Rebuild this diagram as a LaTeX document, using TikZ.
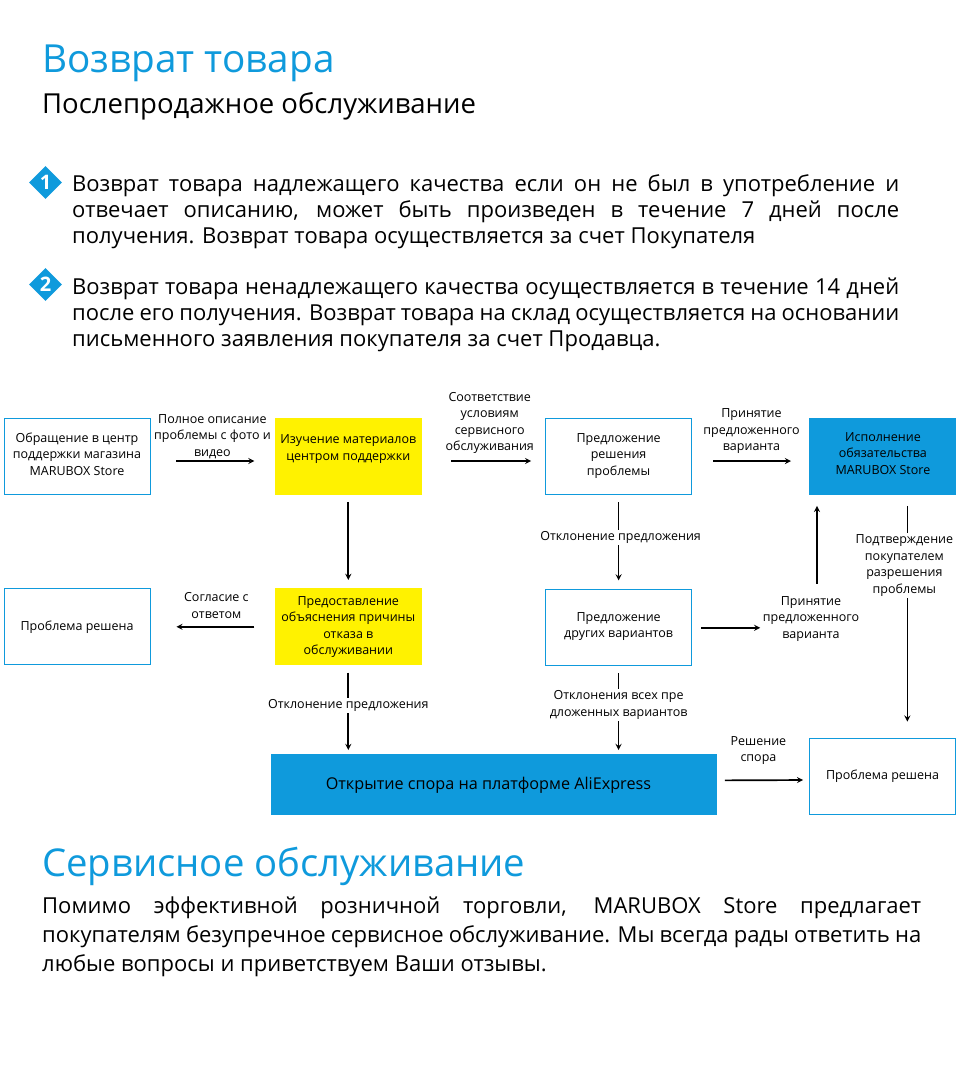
\documentclass[tikz,border=0pt]{standalone}
\usepackage{fontspec}
\setmainfont{Open Sans}
\usepackage{tikz}
\usetikzlibrary{arrows,positioning,shapes.geometric}
\definecolor{shopblue}{HTML}{0F9ADC}
\definecolor{shopyellow}{HTML}{FFF200}
\newcommand{\pushup}[1]{\\[#1]\mbox{}}

\begin{document}
\begin{tikzpicture}[
    x=1pt, y=1pt,
    node distance=94pt and 124pt,
    box/.style={draw=shopblue, fill=white, line width=0.8pt, minimum width=146pt, minimum height=76pt, align=center, font=\fontsize{12.5}{16.5}\selectfont, inner sep=1pt},
    yellowbox/.style={box, draw=none, fill=shopyellow, minimum width=147pt, minimum height=77pt},
    bluebox/.style={box, draw=none, fill=shopblue, minimum width=147pt, minimum height=77pt},
    lbl/.style={align=center, font=\fontsize{12.5}{16.5}\selectfont, inner sep=1.5pt},
    gaplbl/.style={lbl, fill=white},
    badge/.style={diamond, aspect=1, fill=shopblue, text=white, inner sep=0pt, minimum size=33pt, font=\fontsize{20}{20}\selectfont\bfseries},
    para/.style={anchor=north west, align=justify, font=\fontsize{22}{26}\selectfont, inner sep=0pt},
    arr/.style={-stealth, line width=1.7pt}
]
\useasboundingbox (0,0) rectangle (960,-1085);
\fill[white] (0,0) rectangle (960,-1085);

% headings
\node[anchor=base west, inner sep=0pt, text=shopblue, font=\fontsize{38.7}{39}\selectfont] (title) at (42,-72) {Возврат товара};
\node[anchor=base west, inner sep=0pt, font=\fontsize{27.5}{27.5}\selectfont] (subtitle) at (42,-113) {Послепродажное обслуживание};

% rules
\node[badge] (mark1) at (45.5,-182.5) {1};
\node[badge] (mark2) at (45.5,-284.5) {2};
\node[para, text width=827pt] (rule1) at (72,-174) {Возврат товара надлежащего качества если он не был в употребление и\linebreak отвечает описанию, может быть произведен в течение 7 дней после\linebreak получения. Возврат товара осуществляется за счет Покупателя};
\node[para, text width=827pt] (rule2) at (72,-278) {Возврат товара ненадлежащего качества осуществляется в течение 14 дней\linebreak после его получения. Возврат товара на склад осуществляется на основании\linebreak письменного заявления покупателя за счет Продавца.};

% top row
\node[box] (contact) at (77,-456) {Обращение в центр\\поддержки магазина\\MARUBOX Store\pushup{-12.5pt}};
\node[yellowbox, right=124pt of contact] (study) {Изучение материалов\\центром поддержки\pushup{0pt}};
\node[box, right=123pt of study] (offer) {Предложение\\решения\\проблемы};
\node[bluebox, right=117pt of offer] (exec) {Исполнение\\обязательства\\MARUBOX Store\pushup{-11pt}};

% middle row
\node[yellowbox, below=93pt of study] (explain) {Предоставление\\объяснения причины\\отказа в\\обслуживании};
\node[box, left=124pt of explain] (solved1) {Проблема решена};
\node[box, below=95pt of offer] (other) {Предложение\\других вариантов\pushup{-11pt}};
\node[lbl] (accept2) at (811,-619) {Принятие\\предложенного\\варианта};

% bottom row
\node[bluebox, anchor=north west, minimum width=446pt, minimum height=61pt, font=\fontsize{16.2}{20}\selectfont] (dispute) at (271,-754) {Открытие спора на платформе AliExpress\hspace*{12pt}};
\node[box] (solved2) at (882.5,-776) {Проблема решена};

% connectors
\draw[arr, shorten <=26pt, shorten >=20pt] ([yshift=-5pt]contact.east) -- node[lbl, above] {Полное описание\\проблемы с фото и\\видео} ([yshift=-5pt]study.west);
\draw[arr, shorten <=29pt, shorten >=14pt] ([yshift=-5pt]study.east) -- node[lbl, above, xshift=6pt, yshift=5pt] {Соответствие\\условиям\\сервисного\\обслуживания} ([yshift=-5pt]offer.west);
\draw[arr, shorten <=21pt, shorten >=18pt] ([yshift=-5pt]offer.east) -- node[lbl, above, xshift=1pt, yshift=5pt] {Принятие\\предложенного\\варианта} ([yshift=-5pt]exec.west);
\draw[arr, shorten <=7pt, shorten >=8pt] (study.south) -- (explain.north);
\draw[arr, shorten <=8pt, shorten >=9pt] (offer.south) -- node[gaplbl, pos=0.45, xshift=2pt] {Отклонение предложения} (other.north);
\draw[arr, shorten <=20pt, shorten >=26pt] (explain.west) -- node[lbl, above, xshift=4pt, yshift=6pt] {Согласие с\\ответом} (solved1.east);
\draw[arr, shorten <=9pt, shorten >=1pt] (other.east) -- (other.east -| accept2.west);
\draw[arr, shorten <=11pt, shorten >=11pt] ([xshift=6pt]accept2.north) -- ([xshift=6pt]accept2.north |- exec.south);
\draw[arr, shorten <=11pt, shorten >=16pt] ([xshift=24.5pt]exec.south) -- node[gaplbl, pos=0.29, xshift=-3pt] {Подтверждение\\покупателем\\разрешения\\проблемы} ([xshift=24.5pt]exec.south |- solved2.north);
\draw[arr, shorten <=7pt, shorten >=4pt] (explain.south) -- node[gaplbl, pos=0.45] {Отклонение предложения} (explain.south |- dispute.north);
\draw[arr, shorten <=7pt, shorten >=4pt] (other.south) -- node[gaplbl, pos=0.44] {Отклонения всех пре\\дложенных вариантов} (other.south |- dispute.north);
\draw[arr, shorten <=7pt, shorten >=6pt] ([yshift=4.5pt]dispute.east) -- node[lbl, above, xshift=-5pt, yshift=13pt] {Решение\\спора} ([yshift=-4pt]solved2.west);

% service text
\node[anchor=base west, inner sep=0pt, text=shopblue, font=\fontsize{38.3}{38.5}\selectfont] (service) at (42,-876) {Сервисное обслуживание};
\node[para, text width=879pt, font=\fontsize{22}{29}\selectfont] (servicetext) at (42,-897) {Помимо эффективной розничной торговли, MARUBOX Store предлагает\linebreak покупателям безупречное сервисное обслуживание. Мы всегда рады ответить на\linebreak любые вопросы и приветствуем Ваши отзывы.};
\end{tikzpicture}
\end{document}
